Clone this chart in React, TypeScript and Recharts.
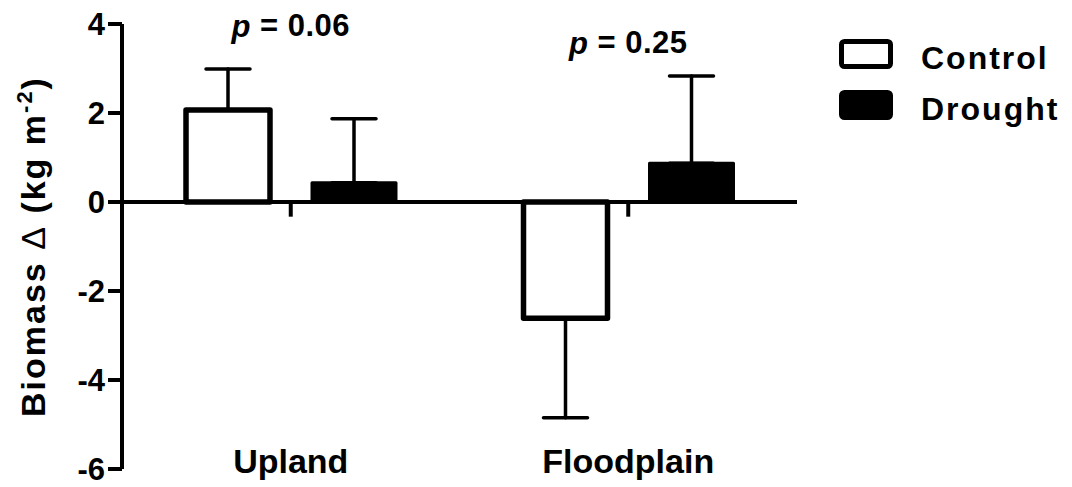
import React from "react";
import {
    BarChart,
    Bar,
    XAxis,
    YAxis,
    ErrorBar,
    ReferenceLine,
    ReferenceDot,
    Legend,
} from "recharts";

// habitat groups
const sites = ["Upland", "Floodplain"];

// mean biomass change (kg m-2) and one-sided SEM
const controlMean = [2.07, -2.61];
const controlSem = [0.92, 2.24];
const droughtMean = [0.43, 0.87];
const droughtSem = [1.44, 1.96];

// t-test results shown above each group
const pValues = ["0.06", "0.25"];

const yTicks = [-6, -4, -2, 0, 2, 4];

// error bars only point away from zero, GraphPad style
const oneSided = (mean: number, sem: number) => (mean >= 0 ? [0, sem] : [sem, 0]);

const data = sites.map((site, i) => ({
    site,
    control: controlMean[i],
    controlErr: oneSided(controlMean[i], controlSem[i]),
    drought: droughtMean[i],
    droughtErr: oneSided(droughtMean[i], droughtSem[i]),
}));

const FONT = '"Liberation Sans", Arial, Helvetica, sans-serif';

const CategoryTick = ({ x, y, payload }: any) => (
    <text
        x={x}
        y={y}
        dy={4}
        textAnchor="middle"
        fontFamily={FONT}
        fontWeight="bold"
        fontSize={34}
        fill="#000"
    >
        {payload.value}
    </text>
);

const ValueTick = ({ x, y, payload }: any) => (
    <text
        x={x}
        y={y}
        dy={10.5}
        textAnchor="end"
        fontFamily={FONT}
        fontWeight="bold"
        fontSize={31}
        fill="#000"
    >
        {payload.value}
    </text>
);

const YTitle = ({ viewBox }: any) => {
    const cy = viewBox.y + viewBox.height / 2;
    return (
        <text
            transform={`translate(45, ${cy}) rotate(-90)`}
            textAnchor="middle"
            fontFamily={FONT}
            fontWeight="bold"
            fontSize={34}
            letterSpacing={2}
            fill="#000"
        >
            Biomass <tspan fontWeight="normal">Δ</tspan> (kg m
            <tspan dy={-13} fontSize={22}>-2</tspan>
            <tspan dy={13}>)</tspan>
        </text>
    );
};

const PLabel = ({ viewBox, value }: any) => (
    <text
        x={viewBox.cx ?? viewBox.x}
        y={viewBox.cy ?? viewBox.y}
        textAnchor="middle"
        dominantBaseline="central"
        fontFamily={FONT}
        fontWeight="bold"
        fontSize={31}
        letterSpacing={0.5}
        fill="#000"
    >
        <tspan fontStyle="italic">p</tspan> = {value}
    </text>
);

const renderLegend = ({ payload }: any) => (
    <div style={{ fontFamily: FONT }}>
        {payload.map((entry: any) => (
            <div
                key={entry.value}
                style={{ display: "flex", alignItems: "center", height: 30, marginBottom: 21 }}
            >
                <svg width={54} height={30}>
                    <rect
                        x={2.5}
                        y={2.5}
                        width={49}
                        height={25}
                        rx={3}
                        fill={entry.color}
                        stroke="#000"
                        strokeWidth={5}
                    />
                </svg>
                <span
                    style={{
                        marginLeft: 28,
                        fontSize: 32,
                        fontWeight: "bold",
                        letterSpacing: 2,
                        lineHeight: "30px",
                        position: "relative",
                        top: 4,
                        color: "#000",
                    }}
                >
                    {entry.value}
                </span>
            </div>
        ))}
    </div>
);

export default function App() {
    return (
        <div style={{ width: 1072, height: 487, background: "#fff" }}>
            <style>{`body { margin: 0; }`}</style>
            <BarChart
                width={1072}
                height={487}
                data={data}
                margin={{ top: 24, right: 275, bottom: 0, left: 0 }}
                barSize={84}
                barGap={42}
            >
                <XAxis
                    dataKey="site"
                    axisLine={false}
                    tickLine={false}
                    tickSize={0}
                    tickMargin={0}
                    height={18}
                    interval={0}
                    tick={<CategoryTick />}
                />
                <YAxis
                    domain={[-6, 4]}
                    ticks={yTicks}
                    width={122}
                    interval={0}
                    axisLine={{ stroke: "#000", strokeWidth: 4 }}
                    tickLine={{ stroke: "#000", strokeWidth: 4 }}
                    tickSize={14}
                    tickMargin={3}
                    tick={<ValueTick />}
                    label={<YTitleLabel />}
                />
                <Legend
                    layout="vertical"
                    align="center"
                    verticalAlign="middle"
                    content={renderLegend}
                    wrapperStyle={{ left: 839, top: 39, width: 230, height: 100 }}
                />
                <Bar
                    dataKey="control"
                    name="Control"
                    fill="#fff"
                    stroke="#000"
                    strokeWidth={5.5}
                    strokeLinejoin="round"
                    isAnimationActive={false}
                >
                    <ErrorBar
                        dataKey="controlErr"
                        direction="y"
                        width={22}
                        stroke="#000"
                        strokeWidth={3.5}
                        strokeLinecap="round"
                        isAnimationActive={false}
                    />
                </Bar>
                <Bar
                    dataKey="drought"
                    name="Drought"
                    fill="#000"
                    stroke="#000"
                    strokeWidth={3}
                    strokeLinejoin="round"
                    isAnimationActive={false}
                >
                    <ErrorBar
                        dataKey="droughtErr"
                        direction="y"
                        width={22}
                        stroke="#000"
                        strokeWidth={3.5}
                        strokeLinecap="round"
                        isAnimationActive={false}
                    />
                </Bar>
                <ReferenceLine y={0} stroke="#000" strokeWidth={4} />
                {sites.map((site) => (
                    <ReferenceLine
                        key={site}
                        segment={[
                            { x: site, y: 0 },
                            { x: site, y: -0.33 },
                        ]}
                        stroke="#000"
                        strokeWidth={4}
                    />
                ))}
                <ReferenceDot
                    x={sites[0]}
                    y={3.96}
                    r={0}
                    fill="none"
                    stroke="none"
                    label={<PLabel value={pValues[0]} />}
                />
                <ReferenceDot
                    x={sites[1]}
                    y={3.58}
                    r={0}
                    fill="none"
                    stroke="none"
                    label={<PLabel value={pValues[1]} />}
                />
            </BarChart>
        </div>
    );
}

function YTitleLabel(props: any) {
    return <YTitle {...props} />;
}
